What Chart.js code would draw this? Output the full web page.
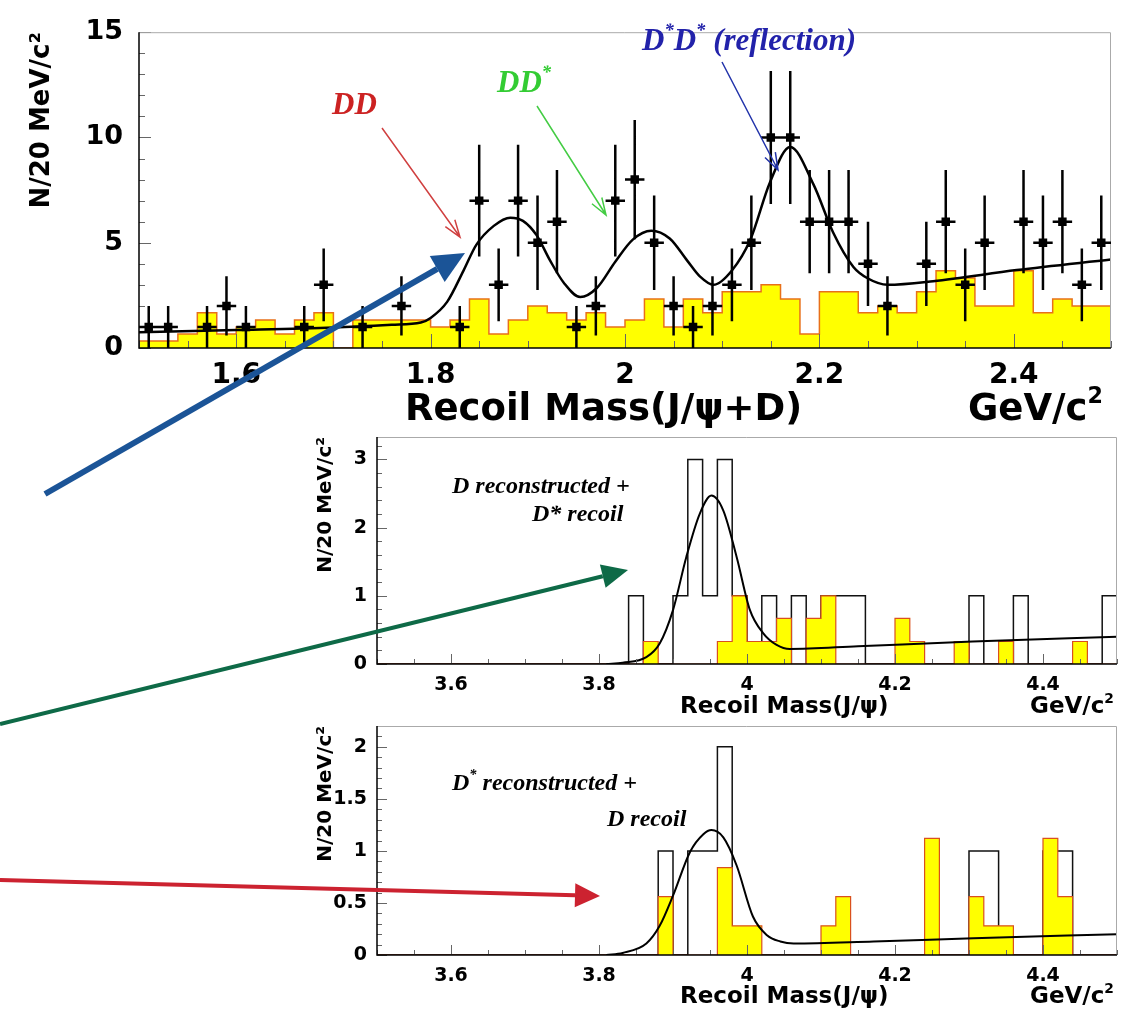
<!DOCTYPE html>
<html>
<head>
<meta charset="utf-8">
<script src="https://cdn.jsdelivr.net/npm/chart.js@4.4.1/dist/chart.umd.min.js"></script>
<style>
html, body { margin: 0; padding: 0; background: #fff; }
#page { position: relative; width: 1124px; height: 1012px; overflow: hidden; }
canvas { position: absolute; left: 0; top: 0; }
.t { position: absolute; white-space: nowrap; line-height: 1; }
.ax { font-family: "DejaVu Sans", sans-serif; font-weight: bold; color: #000; }
.an { font-family: "Liberation Serif", serif; font-weight: bold; font-style: italic; }
sup { font-size: 60%; vertical-align: 0.75em; line-height: 0; }
</style>
</head>
<body>
<div id="page">
  <canvas id="topChart" width="1124" height="1012"></canvas>
  <canvas id="midChart" width="1124" height="1012"></canvas>
  <canvas id="botChart" width="1124" height="1012"></canvas>
  <canvas id="arrows" width="1124" height="1012"></canvas>

  <div class="t ax" style="left:405px;top:389px;font-size:37px">Recoil Mass(J/ψ+D)</div>
  <div class="t ax" style="left:968px;top:389px;font-size:37px">GeV/c<sup>2</sup></div>
  <div class="t ax" style="left:680px;top:694px;font-size:23px">Recoil Mass(J/ψ)</div>
  <div class="t ax" style="left:1030px;top:694px;font-size:23px">GeV/c<sup>2</sup></div>
  <div class="t ax" style="left:680px;top:984px;font-size:23px">Recoil Mass(J/ψ)</div>
  <div class="t ax" style="left:1030px;top:984px;font-size:23px">GeV/c<sup>2</sup></div>

  <div class="t an" style="left:332px;top:88px;font-size:31px;color:#cc2222">DD</div>
  <div class="t an" style="left:497px;top:66px;font-size:31px;color:#33cc33">DD<sup>*</sup></div>
  <div class="t an" style="left:642px;top:24px;font-size:31px;color:#2222aa">D<sup>*</sup>D<sup>*</sup> (reflection)</div>
  <div class="t an" style="left:452px;top:473px;font-size:24px;color:#000">D reconstructed +</div>
  <div class="t an" style="left:532px;top:501px;font-size:24px;color:#000">D* recoil</div>
  <div class="t an" style="left:452px;top:770px;font-size:24px;color:#000">D<sup>*</sup> reconstructed +</div>
  <div class="t an" style="left:607px;top:806px;font-size:24px;color:#000">D recoil</div>
</div>

<script>
// ---- top panel: recoil mass of J/psi + D, 20 MeV bins from 1.5 to 2.5
const topLow = 1.5;
const topBin = 0.02;
const topCounts = [1, 1, 0, 1, 2, 1, 0, 0, 1, 3,
                   0, 1, 0, 2, 0, 0, 1, 7, 3, 7,
                   5, 6, 1, 2, 7, 8, 5, 2, 1, 2,
                   3, 5, 10, 10, 6, 6, 6, 4, 2, 0,
                   4, 6, 3, 5, 0, 6, 5, 6, 3, 5];
const topErrors = [1, 1, 0, 1, 1.41, 1, 0, 0, 1, 1.73,
                   0, 1, 0, 1.41, 0, 0, 1, 2.65, 1.73, 2.65,
                   2.24, 2.45, 1, 1.41, 2.65, 2.83, 2.24, 1.41, 1, 1.41,
                   1.73, 2.24, 3.16, 3.16, 2.45, 2.45, 2.45, 2, 1.41, 0,
                   2, 2.45, 1.73, 2.24, 0, 2.45, 2.24, 2.45, 1.73, 2.24];
const topSideband = [0.33, 0.33, 0.67, 1.67, 0.67, 1.0, 1.33, 0.67, 1.33, 1.67,
                     0, 1.33, 1.33, 1.33, 1.33, 1.0, 1.33, 2.33, 0.67, 1.33,
                     2.0, 1.67, 1.33, 1.67, 1.0, 1.33, 2.33, 1.0, 2.33, 1.67,
                     2.67, 2.67, 3.0, 2.33, 0.67, 2.67, 2.67, 1.67, 2.0, 1.67,
                     2.67, 3.67, 3.33, 2.0, 2.0, 3.67, 1.67, 2.33, 2.0, 2.0];
const topFitX = [1.50, 1.60, 1.70, 1.76, 1.79, 1.80, 1.817, 1.834, 1.847, 1.865,
                 1.882, 1.895, 1.909, 1.923, 1.937, 1.954, 1.971, 1.99, 2.008, 2.027,
                 2.046, 2.064, 2.077, 2.091, 2.11, 2.129, 2.149, 2.17, 2.194, 2.214,
                 2.235, 2.25, 2.27, 2.317, 2.403, 2.50];
const topFitY = [0.75, 0.85, 0.97, 1.1, 1.21, 1.43, 2.19, 3.69, 4.9, 5.8,
                 6.19, 6.04, 5.36, 4.15, 3.1, 2.42, 2.85, 4.1, 5.15, 5.57,
                 5.2, 4.15, 3.4, 3.0, 3.68, 5.15, 7.85, 9.55, 7.76, 5.5,
                 3.85, 3.3, 3.0, 3.17, 3.7, 4.2];
const topXTicks = [1.6, 1.8, 2.0, 2.2, 2.4];
const topYTicks = [0, 5, 10, 15];

// ---- lower panels: recoil mass of J/psi, 20 MeV bins from 3.5 to 4.5
const lowLow = 3.5;
const lowBin = 0.02;
const midCounts = [0, 0, 0, 0, 0, 0, 0, 0, 0, 0,
                   0, 0, 0, 0, 0, 0, 0, 1, 0, 0,
                   1, 3, 1, 3, 1, 0, 1, 0, 1, 0,
                   1, 1, 1, 0, 0, 0, 0, 0, 0, 0,
                   1, 0, 0, 1, 0, 0, 0, 0, 0, 1];
const midSideband = [0, 0, 0, 0, 0, 0, 0, 0, 0, 0,
                     0, 0, 0, 0, 0, 0, 0, 0, 0.33, 0,
                     0, 0, 0, 0.33, 1.0, 0.33, 0.33, 0.67, 0, 0.67,
                     1.0, 0, 0, 0, 0, 0.67, 0.33, 0, 0, 0.33,
                     0, 0, 0.33, 0, 0, 0, 0, 0.33, 0, 0];
const midFitX = [3.81, 3.832, 3.864, 3.882, 3.90, 3.918, 3.936, 3.952, 3.968, 3.986,
                 4.004, 4.022, 4.04, 4.058, 4.15, 4.305, 4.5];
const midFitY = [0, 0.02, 0.1, 0.3, 0.79, 1.57, 2.2, 2.47, 2.25, 1.57,
                 0.79, 0.45, 0.28, 0.22, 0.26, 0.33, 0.40];
const midYTicks = [0, 1, 2, 3];

const botCounts = [0, 0, 0, 0, 0, 0, 0, 0, 0, 0,
                   0, 0, 0, 0, 0, 0, 0, 0, 0, 1,
                   0, 1, 1, 2, 0, 0, 0, 0, 0, 0,
                   0, 0, 0, 0, 0, 0, 0, 0, 0, 0,
                   1, 1, 0, 0, 0, 1, 1, 0, 0, 0];
const botSideband = [0, 0, 0, 0, 0, 0, 0, 0, 0, 0,
                     0, 0, 0, 0, 0, 0, 0, 0, 0, 0.56,
                     0, 0, 0, 0.84, 0.28, 0.28, 0, 0, 0, 0,
                     0.28, 0.56, 0, 0, 0, 0, 0, 1.12, 0, 0,
                     0.56, 0.28, 0.28, 0, 0, 1.12, 0.56, 0, 0, 0];
const botFitX = [3.81, 3.832, 3.864, 3.882, 3.90, 3.923, 3.941, 3.952, 3.968, 3.986,
                 4.008, 4.027, 4.045, 4.063, 4.171, 4.306, 4.5];
const botFitY = [0, 0.02, 0.11, 0.28, 0.57, 0.99, 1.16, 1.2, 1.13, 0.86,
                 0.37, 0.19, 0.13, 0.11, 0.13, 0.16, 0.2];
const botYTicks = [0, 0.5, 1, 1.5, 2];
const lowXTicks = [3.6, 3.8, 4.0, 4.2, 4.4];

const axisFont = '"DejaVu Sans", sans-serif';

// histogram outline as a step line through the bin edges
function histSteps(values, low, width) {
    const pts = [{ x: low, y: 0 }];
    values.forEach((v, i) => pts.push({ x: low + i * width, y: v }));
    pts.push({ x: low + values.length * width, y: values[values.length - 1] });
    pts.push({ x: low + values.length * width, y: 0 });
    return pts;
}

function dataPoints(counts, errors, low, width) {
    return counts
        .map((n, i) => ({ x: low + (i + 0.5) * width, y: n, err: errors[i] }))
        .filter(p => p.y > 0);
}

function curve(xs, ys) {
    return xs.map((x, i) => ({ x: x, y: ys[i] }));
}

function stepValues(min, max, step) {
    const out = [];
    for (let k = Math.ceil(min / step - 1e-6); k * step <= max + 1e-6; k++) out.push(k * step);
    return out;
}

function isMultiple(v, m) {
    return Math.abs(v / m - Math.round(v / m)) < 1e-6;
}

// ROOT style frame: ticks inside, black left/bottom axes, grey top/right
const framePlugin = {
    id: 'frame',
    afterDatasetsDraw(chart, args, opts) {
        const { ctx, chartArea: a, scales: { x, y } } = chart;
        ctx.save();
        ctx.lineWidth = 1;
        ctx.strokeStyle = '#666';
        ctx.beginPath();
        stepValues(x.min, x.max, opts.x.minor).forEach(v => {
            const len = isMultiple(v, opts.x.major) ? opts.x.len[0] : opts.x.len[1];
            const px = Math.round(x.getPixelForValue(v)) + 0.5;
            ctx.moveTo(px, a.bottom);
            ctx.lineTo(px, a.bottom - len);
        });
        stepValues(y.min, y.max, opts.y.minor).forEach(v => {
            const len = isMultiple(v, opts.y.major) ? opts.y.len[0] : opts.y.len[1];
            const py = Math.round(y.getPixelForValue(v)) + 0.5;
            ctx.moveTo(a.left, py);
            ctx.lineTo(a.left + len, py);
        });
        ctx.stroke();
        ctx.strokeStyle = '#aaa';
        ctx.beginPath();
        ctx.moveTo(a.left, a.top + 0.5);
        ctx.lineTo(a.right - 0.5, a.top + 0.5);
        ctx.lineTo(a.right - 0.5, a.bottom);
        ctx.stroke();
        ctx.strokeStyle = '#000';
        ctx.lineWidth = 1.5;
        ctx.beginPath();
        ctx.moveTo(a.left, a.top);
        ctx.lineTo(a.left, a.bottom);
        ctx.lineTo(a.right, a.bottom);
        ctx.stroke();
        ctx.restore();
    }
};

const errorBarPlugin = {
    id: 'errorBars',
    afterDatasetsDraw(chart) {
        const { ctx, scales: { x, y } } = chart;
        chart.data.datasets.forEach(ds => {
            if (!ds.errorBars) return;
            ctx.save();
            ctx.strokeStyle = '#000';
            ctx.lineWidth = ds.errorBars.width;
            ctx.beginPath();
            ds.data.forEach(p => {
                const px = x.getPixelForValue(p.x);
                const py = y.getPixelForValue(p.y);
                ctx.moveTo(px, y.getPixelForValue(p.y + p.err));
                ctx.lineTo(px, y.getPixelForValue(p.y - p.err));
                ctx.moveTo(x.getPixelForValue(p.x - ds.errorBars.half), py);
                ctx.lineTo(x.getPixelForValue(p.x + ds.errorBars.half), py);
            });
            ctx.stroke();
            ctx.restore();
        });
    }
};

function tickText(v) {
    return String(+Number(v).toFixed(2));
}

function renderPanel(id, p) {
    return new Chart(document.getElementById(id), {
        type: 'line',
        data: { datasets: p.datasets },
        options: {
            responsive: false,
            animation: false,
            events: [],
            layout: { padding: p.padding },
            plugins: {
                legend: { display: false },
                tooltip: { enabled: false },
                frame: p.frame
            },
            scales: {
                x: {
                    type: 'linear', min: p.xMin, max: p.xMax,
                    grid: { display: false, drawTicks: false },
                    border: { display: false },
                    afterBuildTicks: s => { s.ticks = p.xTicks.map(v => ({ value: v })); },
                    afterFit: s => { s.height = p.xHeight; },
                    ticks: {
                        color: '#000', padding: p.xPad, maxRotation: 0, autoSkip: false,
                        font: { family: axisFont, weight: 'bold', size: p.xFont },
                        callback: tickText
                    }
                },
                y: {
                    type: 'linear', min: 0, max: p.yMax,
                    grid: { display: false, drawTicks: false },
                    border: { display: false },
                    afterBuildTicks: s => { s.ticks = p.yTicks.map(v => ({ value: v })); },
                    afterFit: s => { s.width = p.yWidth; },
                    ticks: {
                        color: '#000', padding: p.yPad, autoSkip: false,
                        font: { family: axisFont, weight: 'bold', size: p.yFont },
                        callback: tickText
                    },
                    title: {
                        display: true, text: 'N/20 MeV/c²', align: 'end', color: '#000',
                        padding: { top: 4, bottom: 4 },
                        font: { family: axisFont, weight: 'bold', size: p.titleFont }
                    }
                }
            }
        },
        plugins: [framePlugin, errorBarPlugin]
    });
}

function loadCharts() {
    renderPanel('topChart', {
        padding: { left: 23, top: 17, right: 13, bottom: 604 },
        xMin: 1.5, xMax: 2.5, yMax: 15,
        xTicks: topXTicks, yTicks: topYTicks,
        xHeight: 60, yWidth: 116, xPad: 11, yPad: 16,
        xFont: 28, yFont: 27, titleFont: 26,
        frame: { x: { major: 0.2, minor: 0.05, len: [14, 7] }, y: { major: 5, minor: 1, len: [12, 6] } },
        datasets: [
            {
                label: 'fit', data: curve(topFitX, topFitY), order: 0,
                borderColor: '#000', borderWidth: 2.5, pointRadius: 0,
                cubicInterpolationMode: 'monotone'
            },
            {
                label: 'data', data: dataPoints(topCounts, topErrors, topLow, topBin), order: 1,
                showLine: false, pointStyle: 'rect', pointRadius: 6,
                backgroundColor: '#000', borderColor: '#000', borderWidth: 0,
                errorBars: { width: 2.5, half: topBin / 2 }
            },
            {
                label: 'sideband', data: histSteps(topSideband, topLow, topBin), order: 2,
                stepped: 'before', fill: 'origin', pointRadius: 0,
                backgroundColor: '#ffff00', borderColor: '#e8701a', borderWidth: 1.5
            }
        ]
    });

    const lowFrame = (major, minor) => ({
        x: { major: 0.2, minor: 0.05, len: [10, 5] },
        y: { major: major, minor: minor, len: [10, 5] }
    });

    renderPanel('midChart', {
        padding: { left: 310, top: 437, right: 7, bottom: 308 },
        xMin: 3.5, xMax: 4.5, yMax: 3.33,
        xTicks: lowXTicks, yTicks: midYTicks,
        xHeight: 40, yWidth: 67, xPad: 10, yPad: 10,
        xFont: 19, yFont: 19, titleFont: 20,
        frame: lowFrame(1, 0.2),
        datasets: [
            {
                label: 'fit', data: curve(midFitX, midFitY), order: 0,
                borderColor: '#000', borderWidth: 2, pointRadius: 0,
                cubicInterpolationMode: 'monotone'
            },
            {
                label: 'sideband', data: histSteps(midSideband, lowLow, lowBin), order: 1,
                stepped: 'before', fill: 'origin', pointRadius: 0,
                backgroundColor: '#ffff00', borderColor: '#d9501e', borderWidth: 1.2
            },
            {
                label: 'signal', data: histSteps(midCounts, lowLow, lowBin), order: 2,
                stepped: 'before', fill: false, pointRadius: 0,
                borderColor: '#111', borderWidth: 1.5
            }
        ]
    });

    renderPanel('botChart', {
        padding: { left: 310, top: 726, right: 7, bottom: 17 },
        xMin: 3.5, xMax: 4.5, yMax: 2.2,
        xTicks: lowXTicks, yTicks: botYTicks,
        xHeight: 40, yWidth: 67, xPad: 10, yPad: 10,
        xFont: 19, yFont: 19, titleFont: 20,
        frame: lowFrame(0.5, 0.1),
        datasets: [
            {
                label: 'fit', data: curve(botFitX, botFitY), order: 0,
                borderColor: '#000', borderWidth: 2, pointRadius: 0,
                cubicInterpolationMode: 'monotone'
            },
            {
                label: 'sideband', data: histSteps(botSideband, lowLow, lowBin), order: 1,
                stepped: 'before', fill: 'origin', pointRadius: 0,
                backgroundColor: '#ffff00', borderColor: '#d9501e', borderWidth: 1.2
            },
            {
                label: 'signal', data: histSteps(botCounts, lowLow, lowBin), order: 2,
                stepped: 'before', fill: false, pointRadius: 0,
                borderColor: '#111', borderWidth: 1.5
            }
        ]
    });

    drawArrows();
}

// annotation arrows laid over the figure
function solidArrow(ctx, x0, y0, x1, y1, color, width, headLen, headHalf) {
    const ang = Math.atan2(y1 - y0, x1 - x0);
    const bx = x1 - headLen * Math.cos(ang), by = y1 - headLen * Math.sin(ang);
    ctx.strokeStyle = color;
    ctx.fillStyle = color;
    ctx.lineWidth = width;
    ctx.beginPath();
    ctx.moveTo(x0, y0);
    ctx.lineTo(bx, by);
    ctx.stroke();
    ctx.beginPath();
    ctx.moveTo(x1, y1);
    ctx.lineTo(bx + headHalf * Math.sin(ang), by - headHalf * Math.cos(ang));
    ctx.lineTo(bx - headHalf * Math.sin(ang), by + headHalf * Math.cos(ang));
    ctx.closePath();
    ctx.fill();
}

function openArrow(ctx, x0, y0, x1, y1, color) {
    const ang = Math.atan2(y1 - y0, x1 - x0);
    const len = 18, spread = 0.33;
    ctx.strokeStyle = color;
    ctx.lineWidth = 1.5;
    ctx.beginPath();
    ctx.moveTo(x0, y0);
    ctx.lineTo(x1, y1);
    ctx.moveTo(x1 - len * Math.cos(ang - spread), y1 - len * Math.sin(ang - spread));
    ctx.lineTo(x1, y1);
    ctx.lineTo(x1 - len * Math.cos(ang + spread), y1 - len * Math.sin(ang + spread));
    ctx.stroke();
}

function drawArrows() {
    const ctx = document.getElementById('arrows').getContext('2d');
    ctx.lineCap = 'butt';
    openArrow(ctx, 382, 128, 460, 237, '#d04040');
    openArrow(ctx, 537, 106, 606, 215, '#44cc44');
    openArrow(ctx, 722, 62, 778, 170, '#2233aa');
    solidArrow(ctx, 45, 494, 465, 253, '#1b5497', 6, 32, 15);
    solidArrow(ctx, 0, 724, 628, 570, '#0e6a47', 4, 26, 12);
    solidArrow(ctx, 0, 880, 600, 896, '#cc2230', 4, 25, 12);
}

window.onload = loadCharts;
</script>
</body>
</html>
